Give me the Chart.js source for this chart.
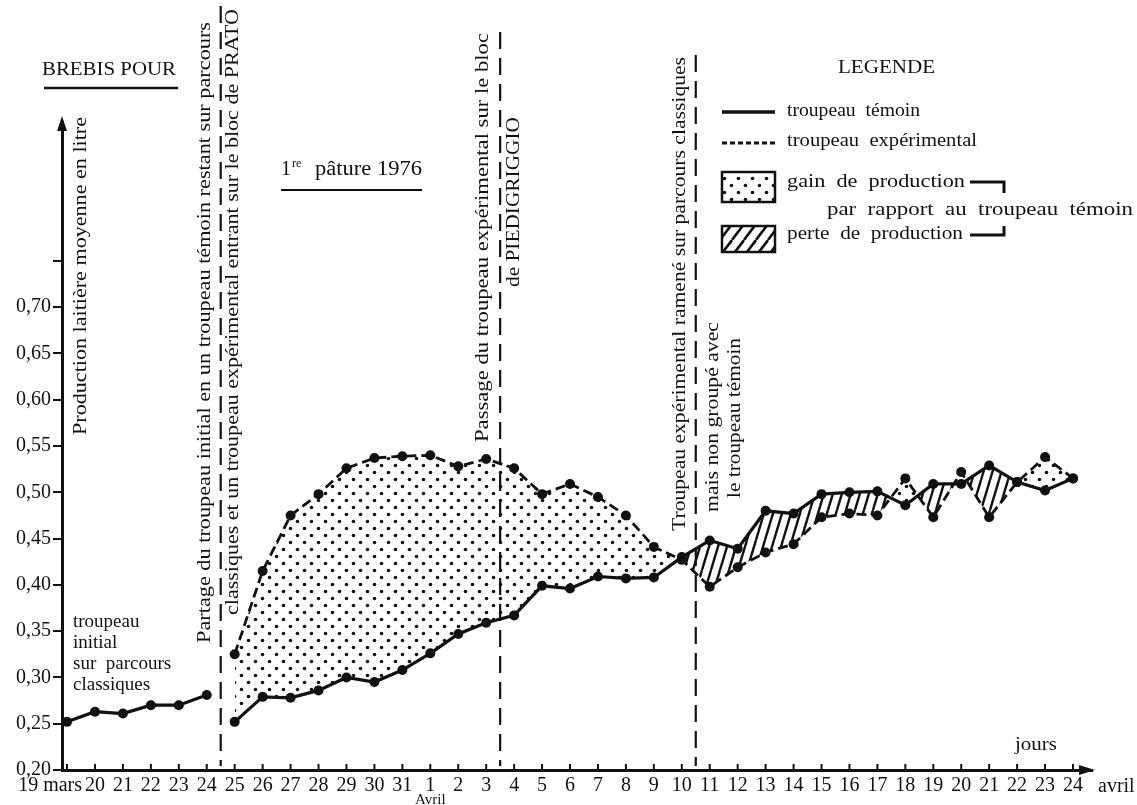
<!DOCTYPE html>
<html lang="fr">
<head>
<meta charset="UTF-8">
<title>Brebis pour 1re pâture 1976</title>
<script src="https://cdn.jsdelivr.net/npm/chart.js@4.4.0/dist/chart.umd.min.js"></script>
<style>
  body { margin: 0; background: #fff; }
  #wrap { width: 1137px; height: 805px; }
</style>
</head>
<body>
<div id="wrap"><canvas id="chart" width="1137" height="805"></canvas></div>
<script>
// days from 19 mars to 24 avril
const dayLabels = ['19 mars', '20', '21', '22', '23', '24', '25', '26', '27', '28', '29', '30', '31',
    '1', '2', '3', '4', '5', '6', '7', '8', '9', '10', '11', '12', '13', '14', '15', '16', '17', '18',
    '19', '20', '21', '22', '23', '24'];

// troupeau initial (19-24 mars)
const initialHerd = [0.252, 0.263, 0.261, 0.270, 0.270, 0.281];
// from 25 mars to 24 avril
const controlHerd = [0.252, 0.279, 0.278, 0.286, 0.300, 0.295, 0.308, 0.326, 0.347, 0.359, 0.367,
    0.399, 0.396, 0.409, 0.407, 0.408, 0.430, 0.448, 0.439, 0.480, 0.477, 0.498, 0.500, 0.501,
    0.486, 0.509, 0.509, 0.529, 0.511, 0.502, 0.515];
const trialHerd = [0.325, 0.415, 0.475, 0.498, 0.526, 0.537, 0.539, 0.540, 0.528, 0.536, 0.526,
    0.498, 0.509, 0.495, 0.475, 0.441, 0.427, 0.398, 0.419, 0.435, 0.444, 0.473, 0.477, 0.475,
    0.515, 0.473, 0.522, 0.473, 0.511, 0.538, 0.515];
const splitIndex = 6;

const yTickValues = [0.20, 0.25, 0.30, 0.35, 0.40, 0.45, 0.50, 0.55, 0.60, 0.65, 0.70, 0.75];
const yTickLabels = ['0,20', '0,25', '0,30', '0,35', '0,40', '0,45', '0,50', '0,55', '0,60', '0,65', '0,70', ''];

// changes of pasture (between days)
const splitDays = [5.5, 15.5, 22.5];

const INK = '#111';
const SERIF = '"Liberation Serif", serif';

const canvas = document.getElementById('chart');
const ctx0 = canvas.getContext('2d');

function makeDots() {
    const t = document.createElement('canvas');
    t.width = 14; t.height = 14;
    const c = t.getContext('2d');
    c.fillStyle = INK;
    [[3.5, 3.5], [10.5, 10.5]].forEach(([a, b]) => {
        c.beginPath(); c.arc(a, b, 1.8, 0, Math.PI * 2); c.fill();
    });
    return ctx0.createPattern(t, 'repeat');
}

function makeHatch(w, h, lw) {
    const t = document.createElement('canvas');
    t.width = w; t.height = h;
    const c = t.getContext('2d');
    c.strokeStyle = INK;
    c.lineWidth = lw;
    for (const dx of [-w, 0, w]) {
        c.beginPath(); c.moveTo(dx, h); c.lineTo(dx + w, 0); c.stroke();
    }
    return ctx0.createPattern(t, 'repeat');
}

const dots = makeDots();
const hatch = makeHatch(9, 30, 2.4);
const hatchLegend = makeHatch(12, 16, 2.6);

function vText(ctx, text, x, yBottom, yTop, size) {
    ctx.save();
    ctx.font = size + 'px ' + SERIF;
    const w = ctx.measureText(text).width;
    ctx.translate(x, yBottom);
    ctx.rotate(-Math.PI / 2);
    ctx.scale((yBottom - yTop) / w, 1);
    ctx.textAlign = 'left';
    ctx.textBaseline = 'middle';
    ctx.fillText(text, 0, 0);
    ctx.restore();
}

function hText(ctx, text, x, y, size, xEnd) {
    ctx.save();
    ctx.font = size + 'px ' + SERIF;
    ctx.textAlign = 'left';
    ctx.textBaseline = 'middle';
    ctx.translate(x, y);
    if (xEnd) ctx.scale((xEnd - x) / ctx.measureText(text).width, 1);
    ctx.fillText(text, 0, 0);
    ctx.restore();
}

function seg(ctx, x1, y1, x2, y2) {
    ctx.beginPath(); ctx.moveTo(x1, y1); ctx.lineTo(x2, y2); ctx.stroke();
}

const overlay = {
    id: 'overlay',
    beforeDatasetsDraw(chart) {
        const { ctx, scales: { x } } = chart;
        const tops = [6, 32, 55];
        ctx.save();
        ctx.strokeStyle = INK;
        ctx.lineWidth = 2.2;
        ctx.setLineDash([17, 9]);
        splitDays.forEach((d, i) => {
            const px = x.getPixelForValue(d);
            seg(ctx, px, tops[i], px, 766);
        });
        ctx.restore();
    },
    afterDraw(chart) {
        const { ctx, chartArea: a, scales: { x } } = chart;
        ctx.save();
        ctx.fillStyle = INK;
        ctx.strokeStyle = INK;

        // arrow heads
        ctx.beginPath();
        ctx.moveTo(a.left, a.top - 6); ctx.lineTo(a.left - 5, a.top + 9); ctx.lineTo(a.left + 5, a.top + 9);
        ctx.closePath(); ctx.fill();
        ctx.beginPath();
        ctx.moveTo(a.right + 3, a.bottom); ctx.lineTo(a.right - 13, a.bottom - 5); ctx.lineTo(a.right - 13, a.bottom + 5);
        ctx.closePath(); ctx.fill();

        // small tick marks above the time axis
        ctx.lineWidth = 2;
        dayLabels.forEach((_, i) => {
            const px = x.getPixelForValue(i);
            seg(ctx, px, a.bottom, px, a.bottom - 6);
        });

        // axis words
        ctx.font = '20px ' + SERIF;
        ctx.textBaseline = 'middle';
        ctx.textAlign = 'right';
        ctx.fillText('19 mars', x.getPixelForValue(0) + 15, 786);
        ctx.textAlign = 'left';
        ctx.fillText('avril', 1098, 787);
        ctx.font = '15px ' + SERIF;
        ctx.textAlign = 'center';
        ctx.fillText('Avril', x.getPixelForValue(13), 800);
        hText(ctx, 'jours', 1015, 745, 19, 1057);

        // vertical notes
        vText(ctx, 'Production laitière moyenne en litre', 81, 435, 117, 19);
        vText(ctx, 'Partage du troupeau initial en un troupeau témoin restant sur parcours', 205, 643, 22, 19);
        vText(ctx, 'classiques et un troupeau expérimental entrant sur le bloc de PRATO', 233, 615, 9, 19);
        vText(ctx, 'Passage du troupeau expérimental sur le bloc', 483, 442, 33, 19);
        vText(ctx, 'de PIEDIGRIGGIO', 514, 287, 117, 19);
        vText(ctx, 'Troupeau expérimental ramené sur parcours classiques', 680, 531, 57, 19);
        vText(ctx, 'mais non groupé avec', 713, 512, 322, 19);
        vText(ctx, 'le troupeau témoin', 735, 498, 338, 19);

        // heading notes
        hText(ctx, 'BREBIS POUR', 42, 70, 19, 176);
        ctx.lineWidth = 2.5;
        seg(ctx, 44, 88, 178, 88);
        ctx.font = '20px ' + SERIF;
        ctx.textAlign = 'left';
        ctx.textBaseline = 'middle';
        ctx.fillText('1', 281, 170);
        ctx.font = '12px ' + SERIF;
        ctx.fillText('re', 292, 164);
        hText(ctx, 'pâture 1976', 315, 170, 20, 422);
        ctx.lineWidth = 1.8;
        seg(ctx, 281, 190, 422, 190);

        ['troupeau', 'initial', 'sur  parcours', 'classiques'].forEach((t, i) => {
            hText(ctx, t, 73, 622 + i * 21, 19);
        });

        // legend
        hText(ctx, 'LEGENDE', 838, 68, 19, 935);
        ctx.lineWidth = 3.5;
        seg(ctx, 722, 112, 775, 112);
        ctx.setLineDash([5, 3]);
        ctx.lineWidth = 3;
        seg(ctx, 722, 143, 775, 143);
        ctx.setLineDash([]);
        hText(ctx, 'troupeau  témoin', 787, 111, 19, 920);
        hText(ctx, 'troupeau  expérimental', 787, 141, 19, 977);

        ctx.fillStyle = dots;
        ctx.fillRect(722, 172, 53, 30);
        ctx.fillStyle = hatchLegend;
        ctx.fillRect(722, 226, 53, 26);
        ctx.fillStyle = INK;
        ctx.lineWidth = 2.5;
        ctx.strokeRect(722, 172, 53, 30);
        ctx.strokeRect(722, 226, 53, 26);
        hText(ctx, 'gain  de  production', 787, 182, 19, 965);
        hText(ctx, 'par  rapport  au  troupeau  témoin', 827, 210, 19, 1133);
        hText(ctx, 'perte  de  production', 787, 234, 19, 963);
        ctx.lineWidth = 3;
        ctx.beginPath(); ctx.moveTo(970, 182); ctx.lineTo(1004, 182); ctx.lineTo(1004, 193); ctx.stroke();
        ctx.beginPath(); ctx.moveTo(970, 235); ctx.lineTo(1004, 235); ctx.lineTo(1004, 226); ctx.stroke();

        ctx.restore();
    }
};

const pointStyle = {
    pointRadius: 5,
    pointBackgroundColor: INK,
    pointBorderWidth: 0,
    pointHoverRadius: 5,
    tension: 0
};

function drawChart() {
    new Chart(canvas, {
        type: 'line',
        data: {
            datasets: [
                {
                    label: 'troupeau initial',
                    data: initialHerd.map((v, i) => ({ x: i, y: v })),
                    borderColor: INK,
                    borderWidth: 3.2,
                    fill: false,
                    ...pointStyle
                },
                {
                    label: 'troupeau témoin',
                    data: controlHerd.map((v, i) => ({ x: i + splitIndex, y: v })),
                    borderColor: INK,
                    borderWidth: 3.2,
                    fill: false,
                    ...pointStyle
                },
                {
                    label: 'troupeau expérimental',
                    data: trialHerd.map((v, i) => ({ x: i + splitIndex, y: v })),
                    borderColor: INK,
                    borderWidth: 2.8,
                    borderDash: [10, 5],
                    fill: { target: 1, above: dots, below: hatch },
                    ...pointStyle
                }
            ]
        },
        options: {
            responsive: false,
            animation: false,
            events: [],
            layout: { padding: { top: 122, right: 45, left: 0, bottom: 0 } },
            plugins: {
                legend: { display: false },
                tooltip: { enabled: false }
            },
            scales: {
                x: {
                    type: 'linear',
                    min: -0.18,
                    max: 36.68,
                    afterFit: s => { s.height = 35; },
                    afterBuildTicks: s => { s.ticks = dayLabels.map((_, i) => ({ value: i })); },
                    grid: { display: false, drawTicks: false },
                    border: { display: true, color: INK, width: 3 },
                    ticks: {
                        autoSkip: false,
                        maxRotation: 0,
                        padding: 4,
                        color: INK,
                        font: { family: SERIF, size: 20 },
                        callback: (v, i) => (i === 0 ? '' : dayLabels[i])
                    }
                },
                y: {
                    type: 'linear',
                    min: 0.20,
                    max: 0.90,
                    afterFit: s => { s.width = 62; },
                    afterBuildTicks: s => { s.ticks = yTickValues.map(v => ({ value: v })); },
                    grid: { drawOnChartArea: false, drawTicks: true, tickLength: 9, color: INK, lineWidth: 2 },
                    border: { display: true, color: INK, width: 3 },
                    ticks: {
                        padding: 2,
                        color: INK,
                        font: { family: SERIF, size: 20 },
                        callback: (v, i) => yTickLabels[i]
                    }
                }
            }
        },
        plugins: [overlay]
    });
}

// make sure the serif face is ready before painting on the canvas
Promise.all([
    document.fonts.load('20px "Liberation Serif"'),
    document.fonts.load('12px "Liberation Serif"')
]).then(drawChart, drawChart);
</script>
</body>
</html>
